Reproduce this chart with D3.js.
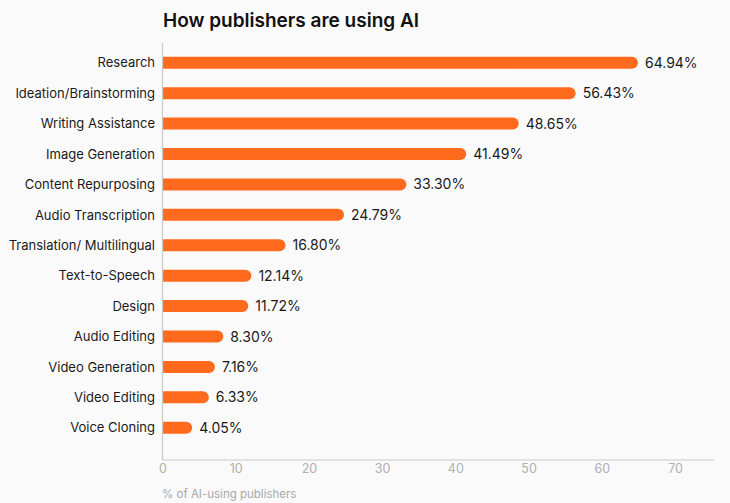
<!DOCTYPE html>
<html><head><meta charset="utf-8">
<script src="https://cdn.jsdelivr.net/npm/d3@7"></script>
<style>
html,body{margin:0;padding:0;background:#fafafa;}
svg{display:block;font-family:Inter, "Noto Sans", sans-serif;}
</style></head>
<body>
<svg id="chart" width="730" height="503"></svg>
<script>
const categories = ["Research","Ideation/Brainstorming","Writing Assistance","Image Generation","Content Repurposing","Audio Transcription","Translation/ Multilingual","Text-to-Speech","Design","Audio Editing","Video Generation","Video Editing","Voice Cloning"];
const values = [64.94,56.43,48.65,41.49,33.30,24.79,16.80,12.14,11.72,8.30,7.16,6.33,4.05];
const xTicks = [0,10,20,30,40,50,60,70];
const title = "How publishers are using AI";
const xTitle = "% of AI-using publishers";

const svg = d3.select("#chart");
const x = d3.scaleLinear().domain([0,70]).range([162.5,675]);
const y = d3.scaleBand().domain(categories).range([47.5,443]).paddingInner(0.6).paddingOuter(0.3);
const barH = 12;

svg.append("text").attr("x",163).attr("y",27).attr("font-size",19).attr("font-weight",600)
  .attr("fill","#111").text(title);

// axes lines
svg.append("line").attr("x1",x(0)).attr("x2",x(0)).attr("y1",43).attr("y2",460)
  .attr("stroke","#c8c8c8").attr("stroke-width",1.2);
svg.append("line").attr("x1",x(0)).attr("x2",714).attr("y1",460).attr("y2",460)
  .attr("stroke","#c8c8c8").attr("stroke-width",1.2);

const xAxis = d3.axisBottom(x).tickValues(xTicks).tickSize(0).tickPadding(4);
const gx = svg.append("g").attr("transform","translate(0,460)").call(xAxis);
gx.select(".domain").remove();
gx.selectAll("text").attr("font-size",12.5).attr("fill","#b0b0b0").attr("font-family","Inter, sans-serif");

svg.append("text").attr("x",162).attr("y",498).attr("font-size",11.5).attr("fill","#a8a8a8").text(xTitle);

const data = categories.map((c,i)=>({c, v:values[i]}));
const cy = d => y(d.c) + y.bandwidth()/2;

svg.append("g").selectAll("path").data(data).join("path")
  .attr("fill","#ff6a1c")
  .attr("d", d=>{
    const x0 = x(0)+0.6, x1 = x(d.v), r = barH/2, t = cy(d)-r;
    return `M${x0},${t}H${x1-r}A${r},${r} 0 0 1 ${x1-r},${t+barH}H${x0}Z`;
  });

svg.append("g").selectAll("text").data(data).join("text")
  .attr("x", d=>x(d.v)+7).attr("y", d=>cy(d)).attr("dy","0.36em")
  .attr("font-size",14).attr("fill","#1a1a1a").text(d=>d.v.toFixed(2)+"%");

svg.append("g").selectAll("text").data(data).join("text")
  .attr("x",155).attr("y", d=>cy(d)).attr("dy","0.36em").attr("text-anchor","end")
  .attr("font-size",13).attr("fill","#1a1a1a").text(d=>d.c);
</script>
</body></html>
